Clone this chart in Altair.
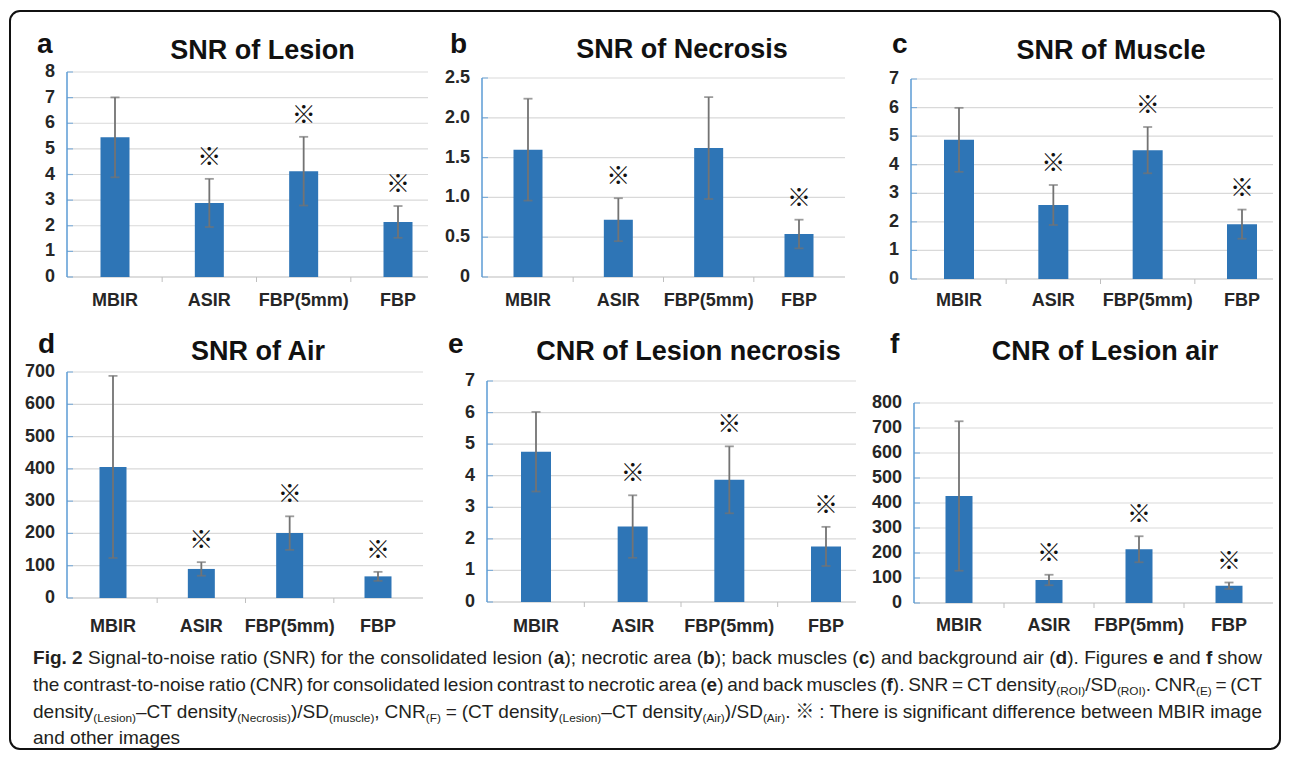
import altair as alt
import pandas as pd

# ---------------- data ----------------
categories = ["MBIR", "ASIR", "FBP(5mm)", "FBP"]

snr_lesion_mean = [5.45, 2.89, 4.13, 2.15]
snr_lesion_sd = [1.56, 0.94, 1.34, 0.62]
snr_lesion_sig = [False, True, True, True]
snr_lesion_ticks = [0, 1, 2, 3, 4, 5, 6, 7, 8]
snr_lesion_labels = ["0", "1", "2", "3", "4", "5", "6", "7", "8"]

snr_necrosis_mean = [1.60, 0.72, 1.62, 0.54]
snr_necrosis_sd = [0.64, 0.27, 0.64, 0.18]
snr_necrosis_sig = [False, True, False, True]
snr_necrosis_ticks = [0, 0.5, 1.0, 1.5, 2.0, 2.5]
snr_necrosis_labels = ["0", "0.5", "1.0", "1.5", "2.0", "2.5"]

snr_muscle_mean = [4.87, 2.59, 4.51, 1.92]
snr_muscle_sd = [1.12, 0.70, 0.81, 0.51]
snr_muscle_sig = [False, True, True, True]
snr_muscle_ticks = [0, 1, 2, 3, 4, 5, 6, 7]
snr_muscle_labels = ["0", "1", "2", "3", "4", "5", "6", "7"]

snr_air_mean = [406, 90, 201, 67]
snr_air_sd = [282, 21, 52, 14]
snr_air_sig = [False, True, True, True]
snr_air_ticks = [0, 100, 200, 300, 400, 500, 600, 700]
snr_air_labels = ["0", "100", "200", "300", "400", "500", "600", "700"]

cnr_necrosis_mean = [4.76, 2.39, 3.87, 1.76]
cnr_necrosis_sd = [1.26, 0.99, 1.06, 0.62]
cnr_necrosis_sig = [False, True, True, True]
cnr_necrosis_ticks = [0, 1, 2, 3, 4, 5, 6, 7]
cnr_necrosis_labels = ["0", "1", "2", "3", "4", "5", "6", "7"]

cnr_air_mean = [428, 92, 215, 69]
cnr_air_sd = [299, 21, 52, 13]
cnr_air_sig = [False, True, True, True]
cnr_air_ticks = [0, 100, 200, 300, 400, 500, 600, 700, 800]
cnr_air_labels = ["0", "100", "200", "300", "400", "500", "600", "700", "800"]

letters = ["a", "b", "c", "d", "e", "f"]
titles = ["SNR of Lesion", "SNR of Necrosis", "SNR of Muscle",
          "SNR of Air", "CNR of Lesion necrosis", "CNR of Lesion air"]
sig_symbol = "※"

# caption runs: (text, style)  n = normal, b = bold, s = subscript, k = symbol
caption_line1 = [("Fig. 2", "b"), (" Signal-to-noise ratio (SNR) for the consolidated lesion (", "n"), ("a", "b"),
                 ("); necrotic area (", "n"), ("b", "b"), ("); back muscles (", "n"), ("c", "b"),
                 (") and background air (", "n"), ("d", "b"), ("). Figures ", "n"), ("e", "b"),
                 (" and ", "n"), ("f", "b"), (" show", "n")]
caption_line2 = [("the contrast-to-noise ratio (CNR) for consolidated lesion contrast to necrotic area (", "n"),
                 ("e", "b"), (") and back muscles (", "n"), ("f", "b"), ("). SNR = CT density", "n"),
                 ("(ROI)", "s"), ("/SD", "n"), ("(ROI)", "s"), (". CNR", "n"), ("(E)", "s"), (" = (CT", "n")]
caption_line3 = [("density", "n"), ("(Lesion)", "s"), ("–CT density", "n"), ("(Necrosis)", "s"), (")/SD", "n"),
                 ("(muscle)", "s"), (", CNR", "n"), ("(F)", "s"), (" = (CT density", "n"), ("(Lesion)", "s"),
                 ("–CT density", "n"), ("(Air)", "s"), (")/SD", "n"), ("(Air)", "s"), (". ", "n"), ("※", "k"),
                 (" : There is significant difference between MBIR image", "n")]
caption_line4 = [("and other images", "n")]

# ---------------- style ----------------
FONT = "Liberation Sans"
SYM_FONT = "Noto Sans CJK JP"
BAR = "#2E75B6"
AXIS_BLUE = "#5B9BD5"
GRID = "#D9D9D9"
ERR = "#737373"
LABEL = "#262626"
CAP_COLOR = "#231F20"
TICK_FS = 18
TITLE_FS = 27

# page-pixel geometry: column start (cx), y-axis line (x0), right end (x1), rows
geoms = [
    dict(cx=67, x0=67, x1=428, top=72, ytop=72, zero=277, c1=115, c4=398, bw=29, lpad=15, letter=(37, 53), title=(262.5, 59)),
    dict(cx=482, x0=482, x1=845, top=72, ytop=78, zero=277, c1=528, c4=799, bw=29, lpad=15, letter=(450, 53), title=(682, 58)),
    dict(cx=910, x0=911, x1=1273, top=72, ytop=79, zero=279, c1=959, c4=1242, bw=30, lpad=13, letter=(892, 53), title=(1111, 59)),
    dict(cx=67, x0=67, x1=423, top=372, ytop=372, zero=598, c1=113, c4=378, bw=27, lpad=20, letter=(38, 353), title=(258, 360)),
    dict(cx=482, x0=487, x1=856, top=372, ytop=381, zero=602, c1=536, c4=826, bw=30, lpad=16, letter=(448, 353), title=(688.5, 360)),
    dict(cx=910, x0=914, x1=1273, top=372, ytop=403, zero=603, c1=959, c4=1229, bw=27, lpad=14, letter=(890, 353), title=(1105, 360)),
]

# Arial / Liberation Sans advance widths (1/1000 em)
_W = {' ': 278, '!': 278, '"': 355, '#': 556, '$': 556, '%': 889, '&': 667, "'": 191, '(': 333, ')': 333,
      '*': 389, '+': 584, ',': 278, '-': 333, '.': 278, '/': 278, ':': 278, ';': 278, '<': 584, '=': 584,
      '>': 584, '?': 556, '–': 556,
      'A': 667, 'B': 667, 'C': 722, 'D': 722, 'E': 667, 'F': 611, 'G': 778, 'H': 722, 'I': 278, 'J': 500,
      'K': 667, 'L': 556, 'M': 833, 'N': 722, 'O': 778, 'P': 667, 'Q': 778, 'R': 722, 'S': 667, 'T': 611,
      'U': 722, 'V': 667, 'W': 944, 'X': 667, 'Y': 667, 'Z': 611,
      'a': 556, 'b': 556, 'c': 500, 'd': 556, 'e': 556, 'f': 278, 'g': 556, 'h': 556, 'i': 222, 'j': 222,
      'k': 500, 'l': 222, 'm': 833, 'n': 556, 'o': 556, 'p': 556, 'q': 556, 'r': 333, 's': 500, 't': 278,
      'u': 556, 'v': 500, 'w': 722, 'x': 500, 'y': 500, 'z': 500}
_WB = {' ': 278, '.': 278, '2': 556, 'F': 611, 'i': 278, 'g': 611, 'a': 556, 'b': 611, 'c': 556,
       'd': 611, 'e': 556, 'f': 333}


def em_width(s, style):
    if style == "k":
        return 1.0 * len(s)
    table = _WB if style == "b" else _W
    return sum(table.get(ch, 556) for ch in s) / 1000.0


def band_params(x0, x1, c1, c4, bw, n=4):
    W = x1 - x0
    step = (c4 - c1) / (n - 1)
    pi = 1 - bw / step
    outer = W - step * (n - pi)
    po = outer / (2 * step)
    al = ((c1 - bw / 2) - x0) / outer
    return pi, po, al, step


def txt(s, x, y, size, weight="bold", align="left", baseline="alphabetic", font=FONT, color="#111111"):
    return alt.Chart(pd.DataFrame({"t": [s]})).mark_text(
        font=font, fontSize=size, fontWeight=weight, align=align, baseline=baseline, color=color
    ).encode(text="t:N", x=alt.value(x), y=alt.value(y))


# ---------------- caption layout (page pixels, then relative to panel d) ----------------
CAP_LEFT, CAP_WIDTH = 33, 1229
cap_baselines = [664, 691, 718, 744]
cap_lines = [caption_line1, caption_line2, caption_line3, caption_line4]
SUB_RATIO = 0.62
SUB_DROP = 4


def scale_of(style, f):
    return f * SUB_RATIO if style == "s" else f


def line_items(runs):
    items = []
    for text, style in runs:
        if style == "n":
            parts = text.split(" ")
            for i, p in enumerate(parts):
                if i > 0:
                    items.append((" ", "gap"))
                if p:
                    items.append((p, "n"))
        else:
            items.append((text, style))
    return items


def natural_width(items, f):
    w = 0.0
    for t, st in items:
        if st == "gap":
            w += _W[' '] / 1000.0 * f
        else:
            w += em_width(t, st) * scale_of(st, f)
    return w


items1 = line_items(caption_line1)
CAP_SIZE = max(17.0, min(20.0, CAP_WIDTH / natural_width(items1, 1.0)))

OX, OY = geoms[3]["cx"], geoms[3]["top"]
recs = {"n": [], "b": [], "s": [], "k": []}
for li, runs in enumerate(cap_lines):
    items = line_items(runs)
    nat = natural_width(items, CAP_SIZE)
    ngap = sum(1 for _, st in items if st == "gap")
    extra = (CAP_WIDTH - nat) / ngap if (li < 3 and ngap) else 0.0
    cur = CAP_LEFT
    for t, st in items:
        if st == "gap":
            cur += _W[' '] / 1000.0 * CAP_SIZE + extra
            continue
        y = cap_baselines[li] + (SUB_DROP if st == "s" else 0)
        recs[st].append({"x": cur - OX, "y": y - OY, "t": t})
        cur += em_width(t, st) * scale_of(st, CAP_SIZE)

cap_layers = []
for st, weight, size, font in [("n", "normal", CAP_SIZE, FONT), ("b", "bold", CAP_SIZE, FONT),
                               ("s", "normal", CAP_SIZE * SUB_RATIO, FONT), ("k", "normal", CAP_SIZE, SYM_FONT)]:
    cap_layers.append(alt.Chart(pd.DataFrame(recs[st])).mark_text(
        font=font, fontSize=size, fontWeight=weight, align="left", baseline="alphabetic", color=CAP_COLOR
    ).encode(x=alt.X("x:Q", scale=None), y=alt.Y("y:Q", scale=None), text="t:N"))

frame = alt.Chart(pd.DataFrame({"k": [0]})).mark_rect(
    fill="transparent", stroke="#111111", strokeWidth=2, cornerRadius=10
).encode(x=alt.value(10 - OX), x2=alt.value(1280 - OX),
         y=alt.value(11 - OY), y2=alt.value(749 - OY))
cap_layers.insert(0, frame)


def make_panel(letter, title, mean, sd, sig, ticks, tick_labels, g, extra=()):
    W = g["x1"] - g["cx"]
    H = g["zero"] - g["top"]
    dx = g["x0"] - g["cx"]
    dmax = ticks[-1] * H / (g["zero"] - g["ytop"])
    pi, po, al, step = band_params(g["cx"], g["x1"], g["c1"], g["c4"], g["bw"])
    xs = alt.Scale(domain=categories, paddingInner=pi, paddingOuter=po, align=al)
    ys = alt.Scale(domain=[0, dmax], nice=False, zero=True)
    xaxis = alt.Axis(
        title=None, labelAngle=0, labelFont=FONT, labelFontSize=TICK_FS, labelFontWeight="bold",
        labelColor=LABEL, labelBaseline="top", labelPadding=g["lpad"] - 1,
        domain=False, ticks=False, grid=False)
    xn = alt.X("cat:N", scale=xs, axis=xaxis)

    df = pd.DataFrame({
        "cat": categories,
        "mean": mean,
        "lo": [m - s for m, s in zip(mean, sd)],
        "hi": [m + s for m, s in zip(mean, sd)],
        "sig": [sig_symbol if s else "" for s in sig],
    })
    base = alt.Chart(df)

    tkdf = pd.DataFrame({"t": ticks, "lab": tick_labels})
    grid = alt.Chart(tkdf).mark_rule(color=GRID, strokeWidth=1.2).encode(
        x=alt.value(dx), x2=alt.value(W), y=alt.Y("t:Q", scale=ys, axis=None))
    ylabels = alt.Chart(tkdf).mark_text(
        font=FONT, fontSize=TICK_FS, fontWeight="bold", align="right", baseline="middle", color=LABEL
    ).encode(x=alt.value(dx - 12), y=alt.Y("t:Q", scale=ys, axis=None), text="lab:N")

    bars = base.mark_bar(color=BAR).encode(x=xn, y=alt.Y("mean:Q", scale=ys, axis=None))
    base_rule = alt.Chart(pd.DataFrame({"z": [0]})).mark_rule(color=GRID, strokeWidth=1.5).encode(
        x=alt.value(dx), x2=alt.value(W), y=alt.Y("z:Q", scale=ys, axis=None))
    # small category-separator ticks below the baseline
    sep = alt.Chart(pd.DataFrame({"cat": categories[:-1]})).mark_rule(
        color="#BFBFBF", strokeWidth=1, xOffset=step / 2
    ).encode(x=xn, y=alt.value(H), y2=alt.value(H + 5))
    err = base.mark_rule(color=ERR, strokeWidth=1.8).encode(
        x=xn, y=alt.Y("lo:Q", scale=ys, axis=None), y2="hi:Q")
    cap_lo = base.mark_tick(orient="horizontal", color=ERR, size=9, thickness=1.8).encode(
        x=xn, y=alt.Y("lo:Q", scale=ys, axis=None))
    cap_hi = base.mark_tick(orient="horizontal", color=ERR, size=9, thickness=1.8).encode(
        x=xn, y=alt.Y("hi:Q", scale=ys, axis=None))
    sig_t = base.transform_filter("datum.sig != ''").mark_text(
        font=SYM_FONT, fontSize=24, baseline="middle", dy=-21, color="#111111"
    ).encode(x=xn, y=alt.Y("hi:Q", scale=ys, axis=None), text="sig:N")

    axdf = pd.DataFrame({"lo": [ticks[0]], "hi": [ticks[-1]]})
    ax_rule = alt.Chart(axdf).mark_rule(color=AXIS_BLUE, strokeWidth=1.5).encode(
        x=alt.value(dx), y=alt.Y("lo:Q", scale=ys, axis=None), y2="hi:Q")
    ax_ticks = alt.Chart(tkdf).mark_tick(orient="horizontal", color=AXIS_BLUE, size=6, thickness=1.2).encode(
        x=alt.value(dx + 3), y=alt.Y("t:Q", scale=ys, axis=None))

    let_t = txt(letter, g["letter"][0] - g["cx"], g["letter"][1] - g["top"], 28)
    tit_t = txt(title, g["title"][0] - g["cx"], g["title"][1] - g["top"], TITLE_FS, align="center")

    layers = [grid, base_rule, sep, bars, err, cap_lo, cap_hi, sig_t, ax_rule, ax_ticks, ylabels, let_t, tit_t]
    layers += list(extra)
    return alt.layer(*layers).properties(width=W, height=H)


pa = make_panel(letters[0], titles[0], snr_lesion_mean, snr_lesion_sd, snr_lesion_sig, snr_lesion_ticks, snr_lesion_labels, geoms[0])
pb = make_panel(letters[1], titles[1], snr_necrosis_mean, snr_necrosis_sd, snr_necrosis_sig, snr_necrosis_ticks, snr_necrosis_labels, geoms[1])
pc = make_panel(letters[2], titles[2], snr_muscle_mean, snr_muscle_sd, snr_muscle_sig, snr_muscle_ticks, snr_muscle_labels, geoms[2])
pd_ = make_panel(letters[3], titles[3], snr_air_mean, snr_air_sd, snr_air_sig, snr_air_ticks, snr_air_labels, geoms[3], extra=cap_layers)
pe = make_panel(letters[4], titles[4], cnr_necrosis_mean, cnr_necrosis_sd, cnr_necrosis_sig, cnr_necrosis_ticks, cnr_necrosis_labels, geoms[4])
pf = make_panel(letters[5], titles[5], cnr_air_mean, cnr_air_sd, cnr_air_sig, cnr_air_ticks, cnr_air_labels, geoms[5])

chart = alt.concat(
    pa, pb, pc, pd_, pe, pf, columns=3, bounds="flush",
    spacing={"row": 93, "column": 54},
).properties(
    padding={"left": 1, "top": 2, "right": 0, "bottom": 0},
    background="white",
).configure_view(strokeWidth=0)

chart.save("out.html", embed_options={"renderer": "svg", "actions": False})
